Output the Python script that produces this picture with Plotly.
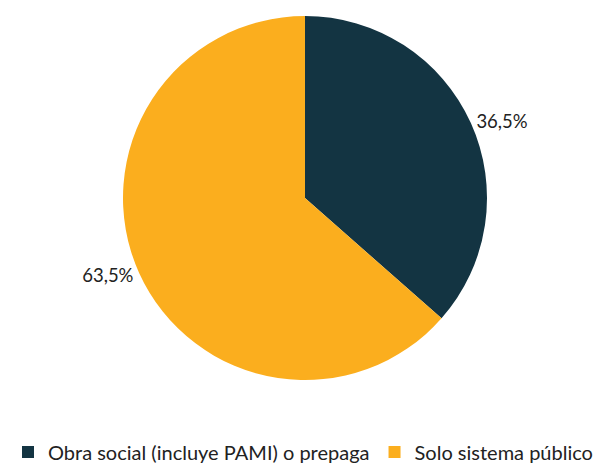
import plotly.graph_objects as go

labels = ["Obra social (incluye PAMI) o prepaga", "Solo sistema público"]
values = [36.5, 63.5]
colors = ["#133442", "#FBAE1E"]

W, H = 605, 464
cx, cy, r = 297, 190, 182

fig = go.Figure(go.Pie(
    labels=labels, values=values, sort=False, direction="clockwise", rotation=0,
    marker=dict(colors=colors, line=dict(width=0)),
    texttemplate="%{percent:.1%}", textposition="outside",
    textfont=dict(size=18.5, color="#222222"),
    hoverinfo="label+percent",
    domain=dict(x=[(cx - r - 100) / W, (cx + r + 100) / W], y=[1 - (cy + r) / H, 1 - (cy - r) / H]),
))
fig.update_layout(
    width=W, height=H, margin=dict(l=0, r=0, t=0, b=0, autoexpand=False),
    paper_bgcolor="white", plot_bgcolor="white",
    separators=",.",
    font=dict(family="Lato, Open Sans, sans-serif", size=18.5, color="#222222"),
    legend=dict(orientation="h", x=0, xanchor="left", y=0.043, yanchor="middle",
                font=dict(size=20), itemwidth=30, traceorder="normal"),
    showlegend=True,
)
fig.write_html("out.html")
